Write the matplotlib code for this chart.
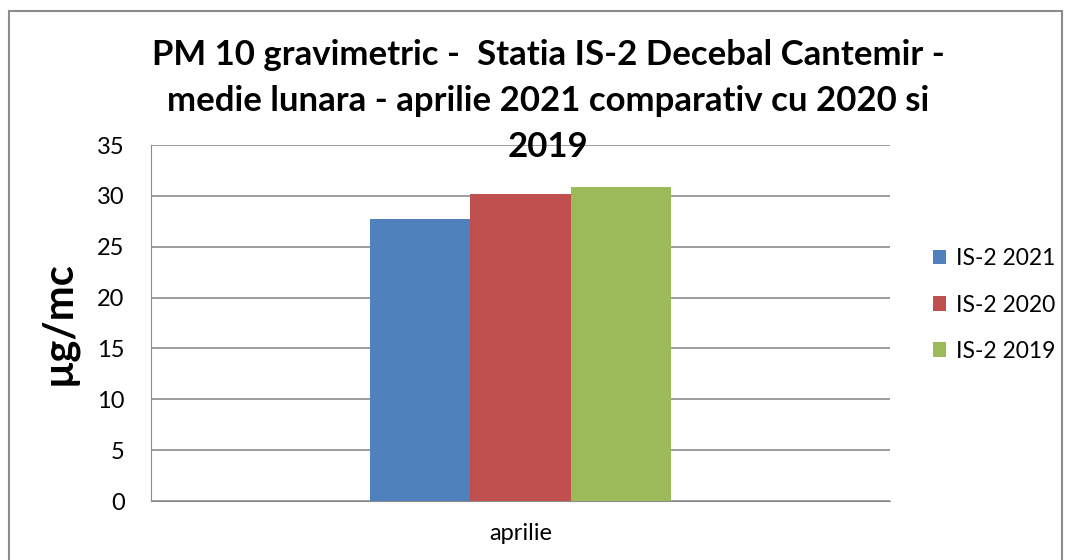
import numpy as np
from matplotlib import pyplot as plt
from matplotlib.patches import Rectangle

categories = ["aprilie"]
series = ["IS-2 2021", "IS-2 2020", "IS-2 2019"]
values = [27.7, 30.2, 30.9]
colors = ["#4F81BD", "#C0504D", "#9BBB59"]

plt.rcParams['font.family'] = ['Lato', 'DejaVu Sans']

fig = plt.figure(figsize=(10.66, 5.6), dpi=100)
ax = fig.add_axes([151/1066, 1 - 501/560, 739/1066, 356/560])

x = np.arange(len(categories))
w = 0.136
for i, (name, v, c) in enumerate(zip(series, values, colors)):
    ax.bar(x + (i - 1) * w, [v], width=w, color=c, label=name, zorder=3)

ax.set_xlim(-0.5, 0.5)
ax.set_ylim(0, 35)
ax.set_yticks(range(0, 36, 5))
ax.set_xticks(x)
ax.set_xticklabels(categories)
ax.grid(axis='y', color='#8C8C8C', linewidth=1.2, zorder=0)
for s in ['top', 'right']:
    ax.spines[s].set_visible(False)
for s in ['left', 'bottom']:
    ax.spines[s].set_color('#8C8C8C')
ax.tick_params(axis='both', length=0, labelsize=17)
ax.tick_params(axis='y', pad=19)
ax.tick_params(axis='x', pad=16)
ax.set_ylabel("µg/mc", fontsize=30, fontweight='bold', labelpad=14)

fig.text(548/1066, 1 - 101/560,
         "PM 10 gravimetric -  Statia IS-2 Decebal Cantemir -\n"
         "medie lunara - aprilie 2021 comparativ cu 2020 si\n2019",
         ha='center', va='center', fontsize=25, fontweight='bold',
         linespacing=1.52)

ax.legend(loc='center left', bbox_to_anchor=(912/1066, 1 - 305/560),
          bbox_transform=fig.transFigure, frameon=False, fontsize=16.5,
          handlelength=0.6, handleheight=0.6, labelspacing=1.1,
          handletextpad=0.4)

fig.patches.append(Rectangle((9/1066, -0.05), 1053/1066, 1 - 11/560 + 0.05,
                             transform=fig.transFigure, fill=False,
                             edgecolor='#8C8C8C', linewidth=1.5))

fig.savefig("out.png", dpi=100)
